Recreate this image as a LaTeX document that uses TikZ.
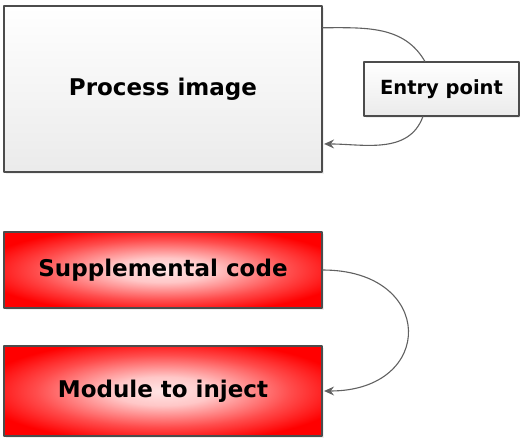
\documentclass[tikz,border=0pt]{standalone}
\usepackage{fontspec}
\setmainfont{DejaVu Sans}
\usetikzlibrary{shadows,arrows.meta}
\pgfdeclareradialshading{redglow}{\pgfpoint{0bp}{0bp}}{color(0bp)=(white!90!red); color(8bp)=(white!78!red); color(20bp)=(white!30!red); color(29bp)=(red); color(50bp)=(red)}
\begin{document}
\begin{tikzpicture}[x=1pt, y=1pt, line join=round, line cap=round, >={Stealth[length=10pt, width=9pt, inset=3.5pt]}]
	\tikzset{box/.style={draw=black!70, line width=1.2pt, inner sep=0pt, font=\bfseries\fontsize{23}{26}\selectfont,
			drop shadow={shadow xshift=2pt, shadow yshift=-2pt, fill=black!12, draw=none}},
		plain box/.style={box, top color=white, bottom color=black!8},
		red box/.style={box, shade, shading=redglow},
		link/.style={->, draw=black!62, line width=1.1pt, shorten >=1.5pt}}
	\useasboundingbox (0,0) rectangle (520,-437);
	\node[plain box, minimum width=318pt, minimum height=166pt] (proc) at (163,-89) {Process image};
	\node[plain box, minimum width=155pt, minimum height=54pt, font=\bfseries\fontsize{19.5}{23}\selectfont] (entry) at (441.5,-89) {Entry point};
	\node[red box, minimum width=318pt, minimum height=76pt] (supp) at (163,-270) {Supplemental code};
	\node[red box, minimum width=318pt, minimum height=90pt] (mod) at (163,-391) {Module to inject};
	\draw[draw=black!62, line width=1.1pt] (proc.21) to[out=0, in=120] (entry.121);
	\draw[link] (entry.236) to[out=250, in=0] (proc.-19.5);
	\draw[link] (supp.east) to[out=0, in=0, looseness=2.4] (mod.east);
\end{tikzpicture}
\end{document}
